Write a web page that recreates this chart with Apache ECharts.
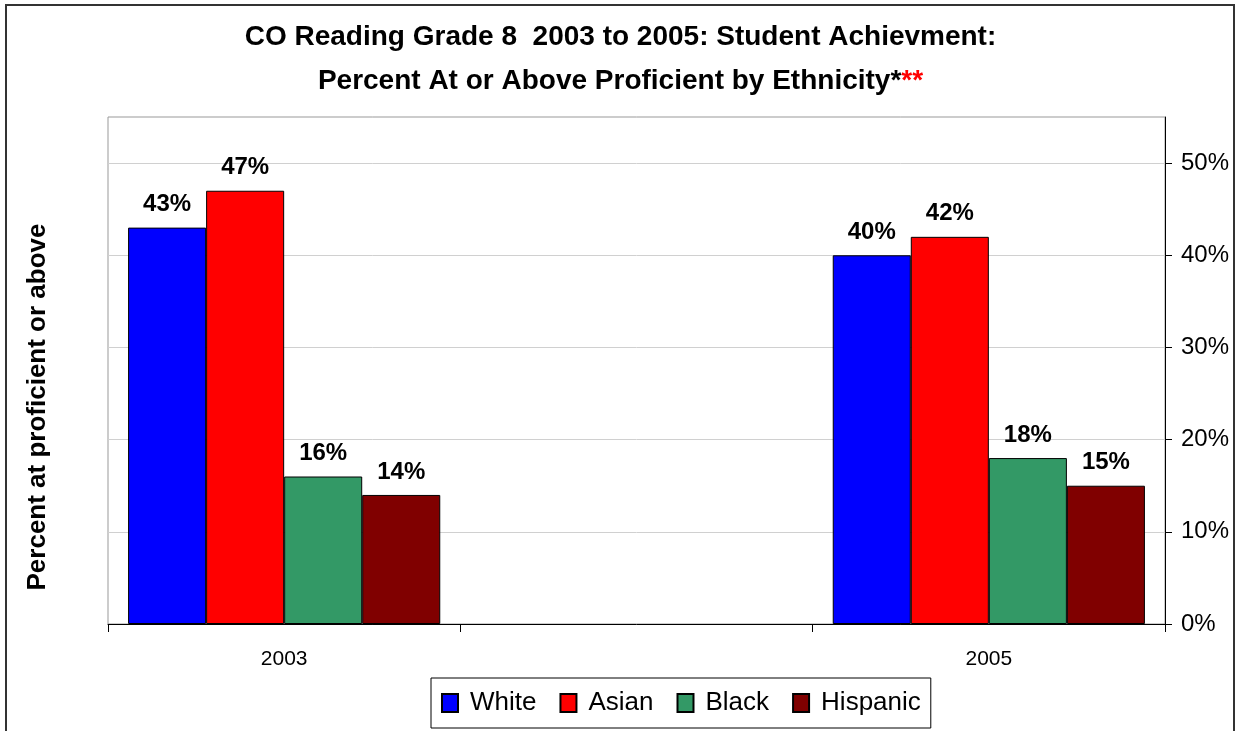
<!DOCTYPE html>
<html><head><meta charset="utf-8">
<script src="https://cdn.jsdelivr.net/npm/echarts@6/dist/echarts.min.js"></script>
<style>html,body{margin:0;padding:0;background:#fff}#c{width:1241px;height:731px}</style>
</head><body><div id="c"></div>
<script>
var categories = ['2003', '', '2005'];
var seriesNames = ['White', 'Asian', 'Black', 'Hispanic'];
var white = [0.43, null, 0.40];
var asian = [0.47, null, 0.42];
var black = [0.16, null, 0.18];
var hispanic = [0.14, null, 0.15];
var tickValues = [0, 0.1, 0.2, 0.3, 0.4, 0.5];
var colors = ['#0000FF', '#FF0000', '#339966', '#800000'];
var FONT = 'Liberation Sans, Arial, sans-serif';

var dataSets = [white, asian, black, hispanic];
var chart = echarts.init(document.getElementById('c'));
chart.setOption({
  animation: false,
  backgroundColor: '#fff',
  textStyle: {fontFamily: FONT},
  title: {
    left: 'center', top: 10,
    text: '{a|CO Reading Grade 8  2003 to 2005: Student Achievment:}\n{a|Percent At or Above Proficient by Ethnicity}{b|*}{c|**}',
    textStyle: {
      rich: {
        a: {fontFamily: FONT, fontSize: 28, fontWeight: 'bold', color: '#000', lineHeight: 44},
        b: {fontFamily: FONT, fontSize: 28, fontWeight: 'bold', color: '#000', lineHeight: 44},
        c: {fontFamily: FONT, fontSize: 28, fontWeight: 'bold', color: '#FF0000', lineHeight: 44}
      }
    }
  },
  graphic: [
    {type: 'rect', shape: {x: 6, y: 5, width: 1228, height: 740}, style: {fill: 'none', stroke: '#333', lineWidth: 2}, silent: true, z: -1},
    {type: 'text', x: 38, y: 407, rotation: Math.PI / 2, style: {text: 'Percent at proficient or above', font: 'bold 26px ' + FONT, fill: '#000', textAlign: 'center', textVerticalAlign: 'middle'}}
  ],
  legend: {
    top: 678, left: 431,
    data: seriesNames,
    itemWidth: 16, itemHeight: 18, itemGap: 23,
    icon: 'rect',
    padding: [12, 10, 12, 10],
    borderColor: '#000', borderWidth: 1,
    textStyle: {fontFamily: FONT, fontSize: 26, color: '#000', padding: [0, 0, 0, 7]}
  },
  grid: {left: 108, right: 76, top: 117, bottom: 107, show: true, borderColor: '#999', borderWidth: 1, containLabel: false},
  xAxis: {
    type: 'category', data: categories,
    axisLine: {lineStyle: {color: '#000', width: 1}},
    axisTick: {show: true, length: 8, lineStyle: {color: '#000'}},
    axisLabel: {fontFamily: FONT, fontSize: 21, color: '#000', margin: 25}
  },
  yAxis: {
    type: 'value', position: 'right', min: 0, max: 0.55,
    axisLine: {show: true, lineStyle: {color: '#000'}},
    axisTick: {show: true, length: 7, lineStyle: {color: '#000'}, customValues: tickValues},
    axisLabel: {fontFamily: FONT, fontSize: 24, color: '#000', margin: 16, customValues: tickValues,
      formatter: function (v) { return Math.round(v * 100) + '%'; }},
    splitLine: {show: true, lineStyle: {color: '#d0d0d0'}},
    interval: 0.1
  },
  series: dataSets.map(function (d, i) {
    return {
      name: seriesNames[i], type: 'bar', data: d,
      barGap: '0%', barCategoryGap: '11.4%',
      itemStyle: {color: colors[i], borderColor: '#000', borderWidth: 1},
      label: {show: true, position: 'top', distance: 11, fontFamily: FONT, fontSize: 24, fontWeight: 'bold', color: '#000',
        formatter: function (p) { return Math.round(p.value * 100) + '%'; }}
    };
  })
});
</script></body></html>
